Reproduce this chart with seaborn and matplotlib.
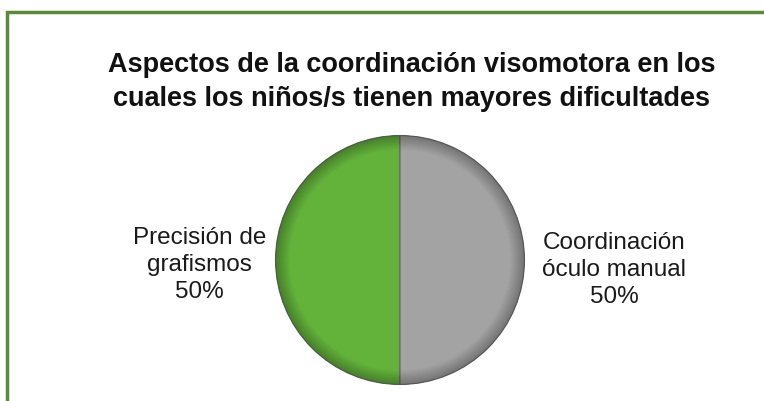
import numpy as np
import matplotlib
matplotlib.use("Agg")
import matplotlib.pyplot as plt
import seaborn as sns
from matplotlib.patches import Rectangle

categories = ["Precisión de\ngrafismos", "Coordinación\nóculo manual"]
values = [50, 50]
colors = ["#63B33B", "#A3A3A3"]

sns.set_theme(style="white")
plt.rcParams['font.family'] = ['Liberation Sans', 'DejaVu Sans']

fig = plt.figure(figsize=(7.64, 4.01), dpi=100)
W, H = 764, 401

# green frame (top and left edges visible)
fig.patches.append(Rectangle((7 / W, -0.1), 1.2, 1 - 12 / H + 0.1, transform=fig.transFigure,
                             fill=False, edgecolor="#5B8B3A", linewidth=2.5))

cx, cy, r = 400, 260, 127
ax = fig.add_axes([(cx - r) / W, (H - cy - r) / H, 2 * r / W, 2 * r / H])
wedges, _ = ax.pie(values, colors=colors, startangle=90, counterclock=True,
                   wedgeprops=dict(edgecolor="#666666", linewidth=0.8))

# subtle rim shading clipped to each wedge
yy, xx = np.mgrid[-1:1:400j, -1:1:400j]
rr = np.sqrt(xx ** 2 + yy ** 2)
shade = np.clip((rr - 0.88) / 0.12, 0, 1) * 0.3
rgba = np.zeros((400, 400, 4))
rgba[..., 3] = shade
for w in wedges:
    im = ax.imshow(rgba, extent=(-1, 1, -1, 1), origin="lower", zorder=3)
    im.set_clip_path(w)
ax.set_xlim(-1.02, 1.02)
ax.set_ylim(-1.02, 1.02)
ax.set_aspect("equal")
ax.axis("off")

label_pos = [(-1.61, -0.04), (1.72, -0.08)]
for cat, v, (lx, ly) in zip(categories, values, label_pos):
    ax.text(lx, ly, f"{cat}\n{v}%", ha="center", va="center", fontsize=17.5,
            color="#1a1a1a", linespacing=1.3, clip_on=False)

fig.text(412 / W, 1 - 52 / H,
         "Aspectos de la coordinación visomotora en los\ncuales los niños/s tienen mayores dificultades",
         ha="center", va="top", fontsize=19.5, fontweight="bold", color="#111111", linespacing=1.4)

fig.savefig("out.png", dpi=100)
